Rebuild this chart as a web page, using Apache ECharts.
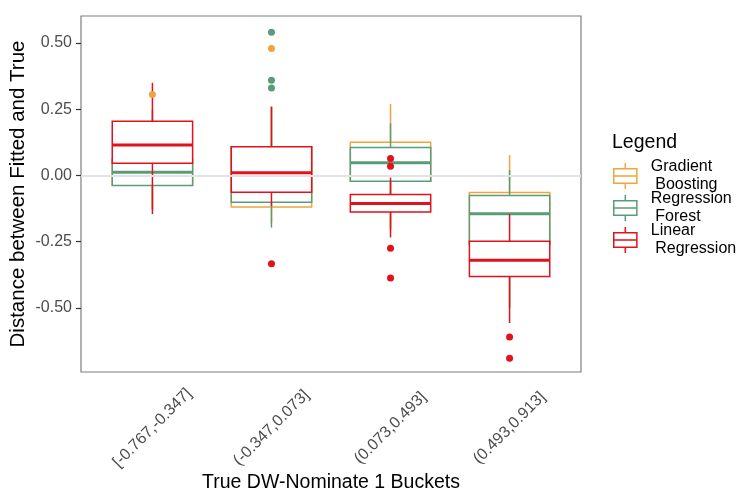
<!DOCTYPE html>
<html>
<head>
<meta charset="utf-8">
<script src="https://cdn.jsdelivr.net/npm/echarts@6/dist/echarts.min.js"></script>
<style>
  html, body { margin: 0; padding: 0; background: #fff; }
  #chart { width: 736px; height: 489px; }
</style>
</head>
<body>
<div id="chart"></div>
<script>
var buckets = ['[-0.767,-0.347]', '(-0.347,0.073]', '(0.073,0.493]', '(0.493,0.913]'];
var yTicks = [-0.5, -0.25, 0, 0.25, 0.5];

// [min, q1, median, q3, max] per bucket
var gbBoxes = [
  [-0.12, -0.036, 0.013, 0.046, 0.22],
  [-0.18, -0.119, 0.010, 0.108, 0.26],
  [-0.21, -0.022, 0.048, 0.125, 0.27],
  [-0.50, -0.26, -0.145, -0.064, 0.077]
];
var rfBoxes = [
  [-0.13, -0.038, 0.012, 0.06, 0.25],
  [-0.197, -0.101, 0.010, 0.108, 0.26],
  [-0.20, -0.022, 0.048, 0.106, 0.197],
  [-0.50, -0.26, -0.145, -0.076, 0.020]
];
var lrBoxes = [
  [-0.146, 0.046, 0.115, 0.205, 0.35],
  [-0.115, -0.063, 0.010, 0.108, 0.259],
  [-0.234, -0.138, -0.106, -0.072, -0.008],
  [-0.557, -0.381, -0.320, -0.248, -0.145]
];
// outliers: [bucket index, value]
var gbOutliers = [[0, 0.306], [1, 0.479]];
var rfOutliers = [[1, 0.541], [1, 0.359], [1, 0.330]];
var lrOutliers = [[1, -0.333], [2, 0.064], [2, 0.035], [2, -0.275], [2, -0.387], [3, -0.610], [3, -0.690]];

var models = [
  {name: 'Gradient Boosting', color: '#F2A33E', boxes: gbBoxes, outliers: gbOutliers},
  {name: 'Regression Forest', color: '#5B9C78', boxes: rfBoxes, outliers: rfOutliers},
  {name: 'Linear Regression', color: '#E0121C', boxes: lrBoxes, outliers: lrOutliers}
];

var font = 'Liberation Sans, Arial, Helvetica, sans-serif';
var yMin = -0.742, yMax = 0.602;
var boxIcon = 'path://M13,0L13,6M1,6L25,6L25,21L1,21ZM1,13.5L25,13.5M13,21L13,27';

function renderBox(color){
  return function(params, api){
    var x = api.value(0);
    var lo = api.coord([x, api.value(1)]);
    var q1 = api.coord([x, api.value(2)]);
    var md = api.coord([x, api.value(3)]);
    var q3 = api.coord([x, api.value(4)]);
    var hi = api.coord([x, api.value(5)]);
    var w = api.size([1, 0])[0] * 0.675;
    var cx = q1[0];
    var thin = {stroke: color, lineWidth: 1.5, fill: null};
    return {
      type: 'group',
      children: [
        {type: 'line', shape: {x1: cx, y1: hi[1], x2: cx, y2: q3[1]}, style: thin},
        {type: 'line', shape: {x1: cx, y1: q1[1], x2: cx, y2: lo[1]}, style: thin},
        {type: 'rect', shape: {x: cx - w / 2, y: q3[1], width: w, height: q1[1] - q3[1]},
          style: {stroke: color, lineWidth: 1.5, fill: '#fff'}},
        {type: 'line', shape: {x1: cx - w / 2, y1: md[1], x2: cx + w / 2, y2: md[1]},
          style: {stroke: color, lineWidth: 3}}
      ]
    };
  };
}

var series = [{
  type: 'line',
  xAxisIndex: 0,
  yAxisIndex: 0,
  data: [],
  z: 1,
  markLine: {
    silent: true,
    symbol: 'none',
    label: {show: false},
    lineStyle: {color: '#e3e3e3', width: 2, type: 'solid'},
    data: [{yAxis: 0}]
  }
}];

models.forEach(function(m){
  series.push({
    name: m.name,
    type: 'custom',
    xAxisIndex: 1,
    yAxisIndex: 1,
    z: 3,
    itemStyle: {color: m.color},
    renderItem: renderBox(m.color),
    encode: {x: 0, y: [1, 2, 3, 4, 5]},
    data: m.boxes.map(function(b, i){ return [i].concat(b); })
  });
});
models.forEach(function(m){
  series.push({
    name: m.name,
    type: 'scatter',
    xAxisIndex: 1,
    yAxisIndex: 1,
    z: 4,
    symbolSize: 7,
    itemStyle: {color: m.color, opacity: 1},
    data: m.outliers
  });
});

var myChart = echarts.init(document.getElementById('chart'), null, {renderer: 'canvas'});
var option = {
  animation: false,
  textStyle: {fontFamily: font},
  title: {
    text: 'Legend',
    left: 612,
    top: 133,
    padding: 0,
    textStyle: {fontSize: 19.5, fontWeight: 'normal', color: '#000', fontFamily: font}
  },
  legend: {
    orient: 'vertical',
    left: 613,
    top: 156,
    padding: 0,
    itemGap: -8,
    itemWidth: 25,
    itemHeight: 26,
    selectedMode: false,
    formatter: function(name){ return name.replace(' ', '\n '); },
    textStyle: {fontSize: 16, lineHeight: 18, color: '#000', fontFamily: font, padding: [4, 0, 0, 8]},
    data: models.map(function(m){
      return {
        name: m.name,
        icon: boxIcon,
        itemStyle: {color: 'rgba(0,0,0,0)', borderColor: m.color, borderWidth: 1.5}
      };
    })
  },
  grid: [
    {left: 81, top: 16, width: 500, height: 356, show: true, borderColor: '#7f7f7f', borderWidth: 1.2,
      containLabel: false, outerBoundsMode: 'none'},
    {left: 92.9, top: 16, width: 476.2, height: 356, containLabel: false, outerBoundsMode: 'none'}
  ],
  xAxis: [
    {type: 'value', gridIndex: 0, min: 0, max: 1, show: false},
    {
      type: 'category',
      gridIndex: 1,
      data: buckets,
      name: 'True DW-Nominate 1 Buckets',
      nameLocation: 'middle',
      nameGap: 101,
      nameMoveOverlap: false,
      nameTextStyle: {fontSize: 19.5, color: '#000', fontFamily: font},
      axisLine: {show: false},
      axisTick: {show: true, alignWithLabel: true, length: 5, lineStyle: {color: '#333', width: 1.2}},
      axisLabel: {
        rotate: 45,
        align: 'center',
        verticalAlign: 'middle',
        margin: 56,
        fontSize: 16,
        color: '#4d4d4d',
        fontFamily: font
      },
      splitLine: {show: false}
    }
  ],
  yAxis: [
    {
      type: 'value',
      gridIndex: 0,
      min: yMin,
      max: yMax,
      name: 'Distance between Fitted and True',
      nameLocation: 'middle',
      nameGap: 52,
      nameMoveOverlap: false,
      nameTextStyle: {fontSize: 20.5, color: '#000', fontFamily: font},
      axisLine: {show: false},
      axisTick: {show: true, length: 5, lineStyle: {color: '#333', width: 1.2}, customValues: yTicks},
      axisLabel: {
        margin: 9,
        fontSize: 16,
        color: '#4d4d4d',
        fontFamily: font,
        customValues: yTicks,
        formatter: function(v){ return v.toFixed(2); }
      },
      splitLine: {show: false}
    },
    {type: 'value', gridIndex: 1, min: yMin, max: yMax, show: false, splitLine: {show: false}}
  ],
  series: series
};
myChart.setOption(option);
</script>
</body>
</html>
